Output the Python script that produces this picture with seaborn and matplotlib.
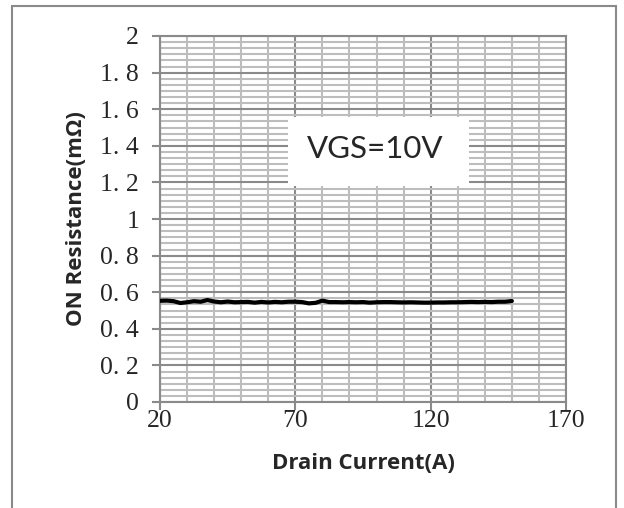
import matplotlib
matplotlib.use("Agg")
import matplotlib.pyplot as plt
import matplotlib.patches as mpatches
from matplotlib.ticker import MultipleLocator, AutoMinorLocator, FixedLocator, FixedFormatter
import seaborn as sns
import pandas as pd

# ---- data ----
drain_current = [20.0, 22.5, 25.0, 27.5, 30.0, 32.5, 35.0, 37.5, 40.0, 42.5,
                 45.0, 47.5, 50.0, 52.5, 55.0, 57.5, 60.0, 62.5, 65.0, 67.5,
                 70.0, 72.5, 75.0, 77.5, 80.0, 82.5, 85.0, 87.5, 90.0, 92.5,
                 95.0, 97.5, 100.0, 102.5, 105.0, 107.5, 110.0, 112.5, 115.0, 117.5,
                 120.0, 122.5, 125.0, 127.5, 130.0, 132.5, 135.0, 137.5, 140.0, 142.5,
                 145.0, 147.5, 150.0]
on_resistance = [0.553, 0.554, 0.551, 0.541, 0.545, 0.551, 0.548, 0.557, 0.549, 0.545,
                 0.549, 0.545, 0.546, 0.547, 0.543, 0.547, 0.544, 0.547, 0.545, 0.548,
                 0.548, 0.546, 0.539, 0.542, 0.554, 0.546, 0.546, 0.545, 0.546, 0.545,
                 0.546, 0.543, 0.545, 0.546, 0.546, 0.545, 0.544, 0.545, 0.544, 0.543,
                 0.543, 0.544, 0.544, 0.545, 0.545, 0.546, 0.547, 0.546, 0.547, 0.546,
                 0.548, 0.548, 0.552]
x_ticks = [20, 70, 120, 170]
x_tick_labels = ["20", "70", "120", "170"]
y_ticks = [0, 0.2, 0.4, 0.6, 0.8, 1.0, 1.2, 1.4, 1.6, 1.8, 2.0]
y_tick_labels = ["0", "0. 2", "0. 4", "0. 6", "0. 8", "1", "1. 2", "1. 4", "1. 6", "1. 8", "2"]
x_label = "Drain Current(A)"
y_label = "ON Resistance(mΩ)"
annotation = "VGS=10V"

df = pd.DataFrame({"Drain Current": drain_current, "ON Resistance": on_resistance})

sns.set_style("white")
plt.rcParams["font.family"] = ["Liberation Serif", "DejaVu Serif"]

fig = plt.figure(figsize=(6.24, 5.08), dpi=100)
ax = fig.add_axes([160/624, 1 - 402/508, (566-160)/624, (402-36)/508])

# grid
ax.set_xlim(20, 170)
ax.set_ylim(0, 2)
ax.xaxis.set_major_locator(FixedLocator(x_ticks))
ax.xaxis.set_major_formatter(FixedFormatter(x_tick_labels))
ax.xaxis.set_minor_locator(MultipleLocator(10))
ax.yaxis.set_major_locator(FixedLocator(y_ticks))
ax.yaxis.set_major_formatter(FixedFormatter(y_tick_labels))
ax.yaxis.set_minor_locator(AutoMinorLocator(6))
ax.set_axisbelow(True)
ax.grid(which="minor", axis="both", color="#bdbdbd", linewidth=1.5)
ax.grid(which="major", axis="both", color="#8a8a8a", linewidth=1.5)

# white label box
ax.add_patch(mpatches.Rectangle((67.4, 1.18), 66.6, 0.377, facecolor="white",
                                edgecolor="none", zorder=2))
ax.text(99.6, 1.385, annotation, ha="center", va="center", fontsize=22.5,
        family=["Lato", "DejaVu Sans"], zorder=3)

sns.lineplot(data=df, x="Drain Current", y="ON Resistance", ax=ax,
             color="black", linewidth=3.0, zorder=4)

for s in ax.spines.values():
    s.set_color("#8a8a8a")
    s.set_linewidth(1.5)

ax.tick_params(axis="y", which="major", direction="out", length=6, width=1.5,
               color="#8a8a8a", labelsize=18.5, pad=9, left=True)
ax.tick_params(axis="x", which="major", direction="out", length=6, width=1.5,
               color="#8a8a8a", labelsize=18.5, pad=0, bottom=True)
ax.tick_params(which="minor", length=0)

ax.set_xlabel(x_label, fontsize=16, fontweight="bold", family=["Open Sans", "DejaVu Sans"], labelpad=15)
ax.set_ylabel(y_label, fontsize=16, fontweight="bold", family=["Open Sans", "DejaVu Sans"], labelpad=9.5)

# outer chart border
fig.patches.append(mpatches.Rectangle((12/624, -0.1), 604/624, 1.1 - 6/508,
                                      transform=fig.transFigure, fill=False,
                                      edgecolor="#8a8a8a", linewidth=1.5))

fig.savefig("out.png", dpi=100)
